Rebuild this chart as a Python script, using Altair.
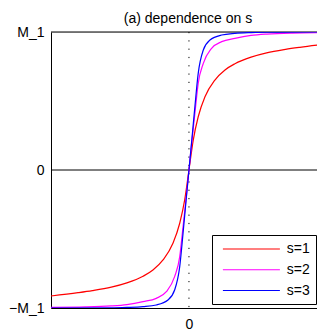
import altair as alt
import pandas as pd

series = ["s=1", "s=2", "s=3"]
colors = ["#ff0000", "#ff00ff", "#0000ff"]

x_s1 = [-1.0, -0.804, -0.70, -0.563, -0.45, -0.333, -0.261, -0.188, -0.116, -0.067, -0.031, 0.0,
        0.031, 0.067, 0.116, 0.188, 0.261, 0.333, 0.45, 0.563, 0.70, 0.804, 1.0]
y_s1 = [-0.913, -0.889, -0.874, -0.849, -0.818, -0.770, -0.725, -0.652, -0.531, -0.386, -0.217, 0.0,
        0.217, 0.386, 0.531, 0.652, 0.725, 0.770, 0.818, 0.849, 0.874, 0.889, 0.913]

x_s2 = [-1.0, -0.75, -0.565, -0.45, -0.333, -0.237, -0.164, -0.104, -0.067, -0.043, -0.02, 0.0,
        0.02, 0.043, 0.067, 0.104, 0.164, 0.237, 0.333, 0.45, 0.565, 0.75, 1.0]
y_s2 = [-0.995, -0.992, -0.985, -0.975, -0.954, -0.930, -0.882, -0.773, -0.628, -0.411, -0.20, 0.0,
        0.20, 0.411, 0.628, 0.773, 0.882, 0.930, 0.954, 0.975, 0.985, 0.992, 0.995]

x_s3 = [-1.0, -0.565, -0.45, -0.333, -0.237, -0.152, -0.104, -0.067, -0.043, -0.02, 0.0,
        0.02, 0.043, 0.067, 0.104, 0.152, 0.237, 0.333, 0.45, 0.565, 1.0]
y_s3 = [-1.0, -0.999, -0.996, -0.990, -0.978, -0.942, -0.870, -0.70, -0.459, -0.21, 0.0,
        0.21, 0.459, 0.70, 0.870, 0.942, 0.978, 0.990, 0.996, 0.999, 1.0]

y_ticks = [-1, 0, 1]
x_ticks = [0]
x_domain = [-1, 0.928]
y_domain = [-1, 1]

rows = []
for name, xs, ys in zip(series, [x_s1, x_s2, x_s3], [y_s1, y_s2, y_s3]):
    for i, (a, b) in enumerate(zip(xs, ys)):
        rows.append({"s": name, "x": a, "M": b, "order": i})
df = pd.DataFrame(rows)

FONT = "Liberation Sans"
xscale = alt.Scale(domain=x_domain, nice=False, zero=False)
yscale = alt.Scale(domain=y_domain, nice=False, zero=False)

xaxis = alt.Axis(values=x_ticks, title=None, ticks=False, labelPadding=9, domain=True,
                 domainColor="black", domainWidth=1, labelExpr="'0'",
                 grid=False, labelFontSize=14, labelFont=FONT, labelColor="black")
yaxis = alt.Axis(values=y_ticks, title=None, ticks=False, labelPadding=7, domain=True,
                 domainColor="black", domainWidth=1, grid=False,
                 labelFontSize=14, labelFont=FONT, labelColor="black",
                 labelExpr="datum.value == 1 ? 'M_1' : (datum.value == -1 ? '\u2212M_1' : '0')")

lines = alt.Chart(df).mark_line(strokeWidth=1.2, interpolate="monotone", clip=True).encode(
    x=alt.X("x:Q", scale=xscale, axis=xaxis),
    y=alt.Y("M:Q", scale=yscale, axis=yaxis),
    color=alt.Color("s:N", scale=alt.Scale(domain=series, range=colors),
                    legend=alt.Legend(title=None, orient="none", legendX=161, legendY=203,
                                      direction="vertical", strokeColor="black", fillColor="white",
                                      padding=6, symbolOffset=25.4, symbolType="M-4,0H4",
                                      symbolSize=203, symbolStrokeWidth=1.2,
                                      labelFontSize=14, labelFont=FONT, labelColor="black",
                                      labelOffset=27.4, rowPadding=5.75, cornerRadius=0)),
    order="order:Q",
)

hline = alt.Chart(pd.DataFrame({"M": [0]})).mark_rule(color="black", strokeWidth=1).encode(
    y=alt.Y("M:Q", scale=yscale, title=None)
)
topline = alt.Chart(pd.DataFrame({"M": [1]})).mark_rule(color="black", strokeWidth=1).encode(
    y=alt.Y("M:Q", scale=yscale, title=None)
)
vline = alt.Chart(pd.DataFrame({"x": [0]})).mark_rule(color="black", strokeWidth=1, strokeDash=[1.2, 7.1]).encode(
    x=alt.X("x:Q", scale=xscale, title=None)
)

chart = alt.layer(hline, vline, topline, lines).properties(
    width=266, height=276,
    title=alt.TitleParams("(a) dependence on s", fontSize=14, fontWeight="normal", font=FONT,
                          offset=-1, color="black", anchor="middle", dx=4),
    autosize=alt.AutoSizeParams(type="none"),
    padding={"left": 43, "top": 24, "right": 0, "bottom": 22},
).configure_view(stroke=None).configure(background="white")

chart.save("out.html", embed_options={"renderer": "svg", "actions": False})
